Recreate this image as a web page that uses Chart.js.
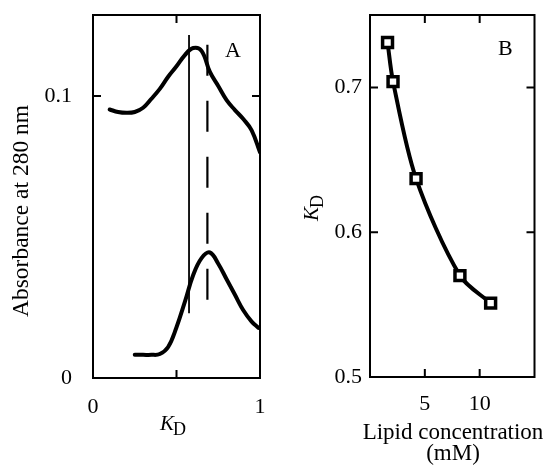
<!DOCTYPE html>
<html>
<head>
<meta charset="utf-8">
<script src="https://cdn.jsdelivr.net/npm/chart.js@4"></script>
<style>
body { margin: 0; background: #fff; }
#wrap { position: relative; width: 545px; height: 465px; }
canvas { position: absolute; top: 0; }
</style>
</head>
<body>
<div id="wrap">
<canvas id="chart-a" width="275" height="465" style="left:0"></canvas>
<canvas id="chart-b" width="270" height="465" style="left:275px"></canvas>
</div>
<script>
const SERIF = '"Liberation Serif", "Times New Roman", serif';

// panel A: elution profiles
const kdTop = [0.1, 0.15, 0.2, 0.25, 0.3, 0.35, 0.4, 0.45, 0.5, 0.55, 0.6, 0.65, 0.7, 0.75, 0.8, 0.85, 0.9, 0.95, 1.0];
const absTop = [0.0952, 0.0943, 0.0940, 0.0943, 0.0958, 0.0990, 0.1025, 0.1068, 0.1105, 0.1145, 0.1170, 0.1160, 0.1085, 0.1035, 0.0985, 0.0950, 0.0918, 0.0878, 0.0800];
const kdBottom = [0.25, 0.3, 0.35, 0.4, 0.45, 0.5, 0.55, 0.6, 0.65, 0.7, 0.75, 0.8, 0.85, 0.9, 0.95, 0.99];
const absBottom = [0.0082, 0.0082, 0.0082, 0.0085, 0.0110, 0.0180, 0.0270, 0.0365, 0.0425, 0.0445, 0.0405, 0.0350, 0.0295, 0.0240, 0.0200, 0.0178];
const solidMarkKd = [0.575, 0.575];
const solidMarkAbs = [0.023, 0.1216];
const dashMarkKd = [0.685, 0.685];
const dashMarkAbs = [0.0277, 0.1216];
const xTicksA = [0, 0.5, 1];
const xLabelsA = ['0', '', '1'];
const yTicksA = [0, 0.1];
const yLabelsA = ['0', '0.1'];

// panel B: KD vs lipid concentration
const lipidConc = [1.6, 2.1, 4.2, 8.2, 11.0];
const kdValues = [0.731, 0.704, 0.637, 0.570, 0.551];
const xTicksB = [5, 10];
const xLabelsB = ['5', '10'];
const yTicksB = [0.5, 0.6, 0.7];
const yLabelsB = ['0.5', '0.6', '0.7'];

const pts = (xs, ys) => xs.map((x, i) => ({ x, y: ys[i] }));

function drawKD(ctx, x, y) {
    ctx.textAlign = 'left';
    ctx.textBaseline = 'alphabetic';
    ctx.font = 'italic 21px ' + SERIF;
    ctx.fillText('K', x, y);
    const w = ctx.measureText('K').width;
    ctx.font = '18px ' + SERIF;
    ctx.fillText('D', x + w - 1, y + 5);
}

// frame, inward ticks and tick labels, all placed through the chart's scales
function framePlugin(cfg) {
    return {
        id: 'frame',
        afterDatasetsDraw(chart) {
            const { ctx, chartArea: a, scales: { x, y } } = chart;
            ctx.save();
            ctx.strokeStyle = '#000';
            ctx.lineWidth = 2;
            ctx.strokeRect(a.left, a.top, a.width, a.height);
            ctx.beginPath();
            cfg.xTicks.forEach(v => {
                if (v <= x.min || v >= x.max) return;
                const px = x.getPixelForValue(v);
                ctx.moveTo(px, a.bottom); ctx.lineTo(px, a.bottom - 8);
                ctx.moveTo(px, a.top); ctx.lineTo(px, a.top + 8);
            });
            cfg.yTicks.forEach(v => {
                if (v <= y.min || v >= y.max) return;
                const py = y.getPixelForValue(v);
                ctx.moveTo(a.left, py); ctx.lineTo(a.left + 8, py);
                ctx.moveTo(a.right, py); ctx.lineTo(a.right - 8, py);
            });
            ctx.stroke();

            ctx.fillStyle = '#000';
            ctx.font = '22px ' + SERIF;
            ctx.textAlign = 'center';
            ctx.textBaseline = 'alphabetic';
            cfg.xTicks.forEach((v, i) => {
                ctx.fillText(cfg.xLabels[i], x.getPixelForValue(v), a.bottom + cfg.xGap);
            });
            ctx.textAlign = 'right';
            ctx.textBaseline = 'middle';
            cfg.yTicks.forEach((v, i) => {
                ctx.fillText(cfg.yLabels[i], a.left - cfg.yGap, y.getPixelForValue(v));
            });
            cfg.text(ctx, a);
            ctx.restore();
        }
    };
}

const hiddenScales = (xMin, xMax, yMin, yMax) => ({
    x: { type: 'linear', min: xMin, max: xMax, display: false },
    y: { type: 'linear', min: yMin, max: yMax, display: false }
});

Chart.defaults.animation = false;

new Chart(document.getElementById('chart-a'), {
    type: 'line',
    data: {
        datasets: [
            { data: pts(kdTop, absTop), borderColor: '#000', borderWidth: 4, pointRadius: 0, tension: 0.4, borderCapStyle: 'round' },
            { data: pts(kdBottom, absBottom), borderColor: '#000', borderWidth: 4, pointRadius: 0, tension: 0.4, borderCapStyle: 'round' },
            { data: pts(solidMarkKd, solidMarkAbs), borderColor: '#000', borderWidth: 1.8, pointRadius: 0 },
            { data: pts(dashMarkKd, dashMarkAbs), borderColor: '#000', borderWidth: 2.2, pointRadius: 0, borderDash: [31, 25] }
        ]
    },
    options: {
        responsive: false,
        devicePixelRatio: 1,
        layout: { padding: { top: 15, right: 15, left: 93, bottom: 87 } },
        plugins: { legend: { display: false }, tooltip: { enabled: false } },
        scales: hiddenScales(0, 1, 0, 0.1287)
    },
    plugins: [framePlugin({
        xTicks: xTicksA, xLabels: xLabelsA, xGap: 35,
        yTicks: yTicksA, yLabels: yLabelsA, yGap: 21,
        text(ctx) {
            ctx.font = '22px ' + SERIF;
            ctx.textAlign = 'left';
            ctx.textBaseline = 'alphabetic';
            ctx.fillText('A', 225, 57);
            drawKD(ctx, 160, 430);
            ctx.save();
            ctx.translate(28, 211);
            ctx.rotate(-Math.PI / 2);
            ctx.font = '23.5px ' + SERIF;
            ctx.textAlign = 'center';
            ctx.fillText('Absorbance at 280 nm', 0, 0);
            ctx.restore();
        }
    })]
});

new Chart(document.getElementById('chart-b'), {
    type: 'line',
    data: {
        datasets: [
            {
                data: pts(lipidConc, kdValues), borderColor: '#000', borderWidth: 4,
                tension: 0.3,
                pointStyle: 'rect', pointRadius: 7, pointBorderWidth: 3.5,
                pointBackgroundColor: '#fff', pointBorderColor: '#000'
            }
        ]
    },
    options: {
        responsive: false,
        devicePixelRatio: 1,
        layout: { padding: { top: 15, right: 8, left: 95, bottom: 88 } },
        plugins: { legend: { display: false }, tooltip: { enabled: false } },
        scales: hiddenScales(0, 15, 0.5, 0.75)
    },
    plugins: [framePlugin({
        xTicks: xTicksB, xLabels: xLabelsB, xGap: 33,
        yTicks: yTicksB, yLabels: yLabelsB, yGap: 8,
        text(ctx) {
            ctx.font = '22px ' + SERIF;
            ctx.textAlign = 'left';
            ctx.textBaseline = 'alphabetic';
            ctx.fillText('B', 223, 55);
            ctx.font = '23px ' + SERIF;
            ctx.textAlign = 'center';
            ctx.fillText('Lipid concentration', 178, 439);
            ctx.fillText('(mM)', 178, 460);
            ctx.save();
            ctx.translate(43, 221);
            ctx.rotate(-Math.PI / 2);
            drawKD(ctx, 0, 0);
            ctx.restore();
        }
    })]
});
</script>
</body>
</html>
